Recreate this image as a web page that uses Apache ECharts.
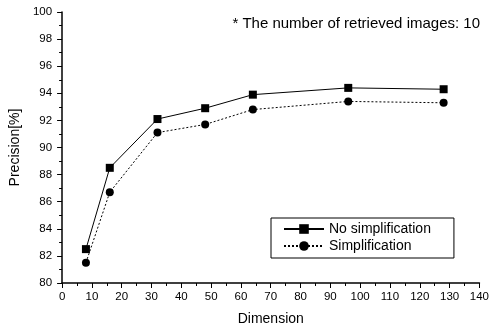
<!DOCTYPE html>
<html>
<head>
<meta charset="utf-8">
<script src="https://cdn.jsdelivr.net/npm/echarts@6/dist/echarts.min.js"></script>
<style>
  html, body { margin: 0; padding: 0; background: #fff; }
  #chart { width: 492px; height: 331px; }
</style>
</head>
<body>
<div id="chart"></div>
<script>
var dims = [8, 16, 32, 48, 64, 96, 128];
var noSimp = [82.5, 88.5, 92.1, 92.9, 93.9, 94.4, 94.3];
var simp = [81.5, 86.7, 91.1, 91.7, 92.8, 93.4, 93.3];

var pair = function (xs, ys) {
    var res = [];
    for (var i = 0; i < xs.length; i++) {
        res.push([xs[i], ys[i]]);
    }
    return res;
};

var chart = echarts.init(document.getElementById('chart'));
var font = 'Liberation Sans, Arial, sans-serif';
chart.setOption({
    animation: false,
    textStyle: { fontFamily: font },
    grid: { left: 62, right: 11, top: 12, bottom: 47 },
    title: {
        text: '* The number of retrieved images: 10',
        right: 12, top: 16, padding: 0,
        textStyle: { fontSize: 15, fontWeight: 'normal', color: '#000', fontFamily: font }
    },
    legend: {
        left: 271, top: 218, width: 181,
        orient: 'vertical',
        itemGap: 3,
        itemWidth: 40, itemHeight: 12,
        padding: [4, 23, 5, 12],
        borderColor: '#000', borderWidth: 1,
        textStyle: { fontSize: 14, color: '#000', fontFamily: font },
        data: ['No simplification', 'Simplification']
    },
    xAxis: {
        type: 'value', min: 0, max: 140, interval: 10,
        name: 'Dimension', nameLocation: 'middle', nameGap: 29,
        nameTextStyle: { fontSize: 14, color: '#000' },
        axisLine: { show: true, lineStyle: { color: '#000', width: 1.5 } },
        axisTick: { show: true, length: 5, lineStyle: { color: '#000' } },
        minorTick: { show: true, splitNumber: 2, length: 3, lineStyle: { color: '#000' } },
        axisLabel: { fontSize: 11.5, color: '#000', margin: 8 },
        splitLine: { show: false }
    },
    yAxis: {
        type: 'value', min: 80, max: 100, interval: 2,
        name: 'Precision[%]', nameLocation: 'middle', nameGap: 36, nameRotate: 90,
        nameTextStyle: { fontSize: 14, color: '#000' },
        axisLine: { show: true, lineStyle: { color: '#000', width: 1.5 } },
        axisTick: { show: true, length: 5, lineStyle: { color: '#000' } },
        minorTick: { show: true, splitNumber: 2, length: 3, lineStyle: { color: '#000' } },
        axisLabel: { fontSize: 11.5, color: '#000', margin: 10 },
        splitLine: { show: false }
    },
    series: [{
        name: 'No simplification',
        type: 'line',
        data: pair(dims, noSimp),
        symbol: 'rect', symbolSize: 8,
        itemStyle: { color: '#000' },
        lineStyle: { color: '#000', width: 1 }
    }, {
        name: 'Simplification',
        type: 'line',
        data: pair(dims, simp),
        symbol: 'circle', symbolSize: 8,
        itemStyle: { color: '#000' },
        lineStyle: { color: '#000', width: 1, type: [2, 2] }
    }]
});
</script>
</body>
</html>
